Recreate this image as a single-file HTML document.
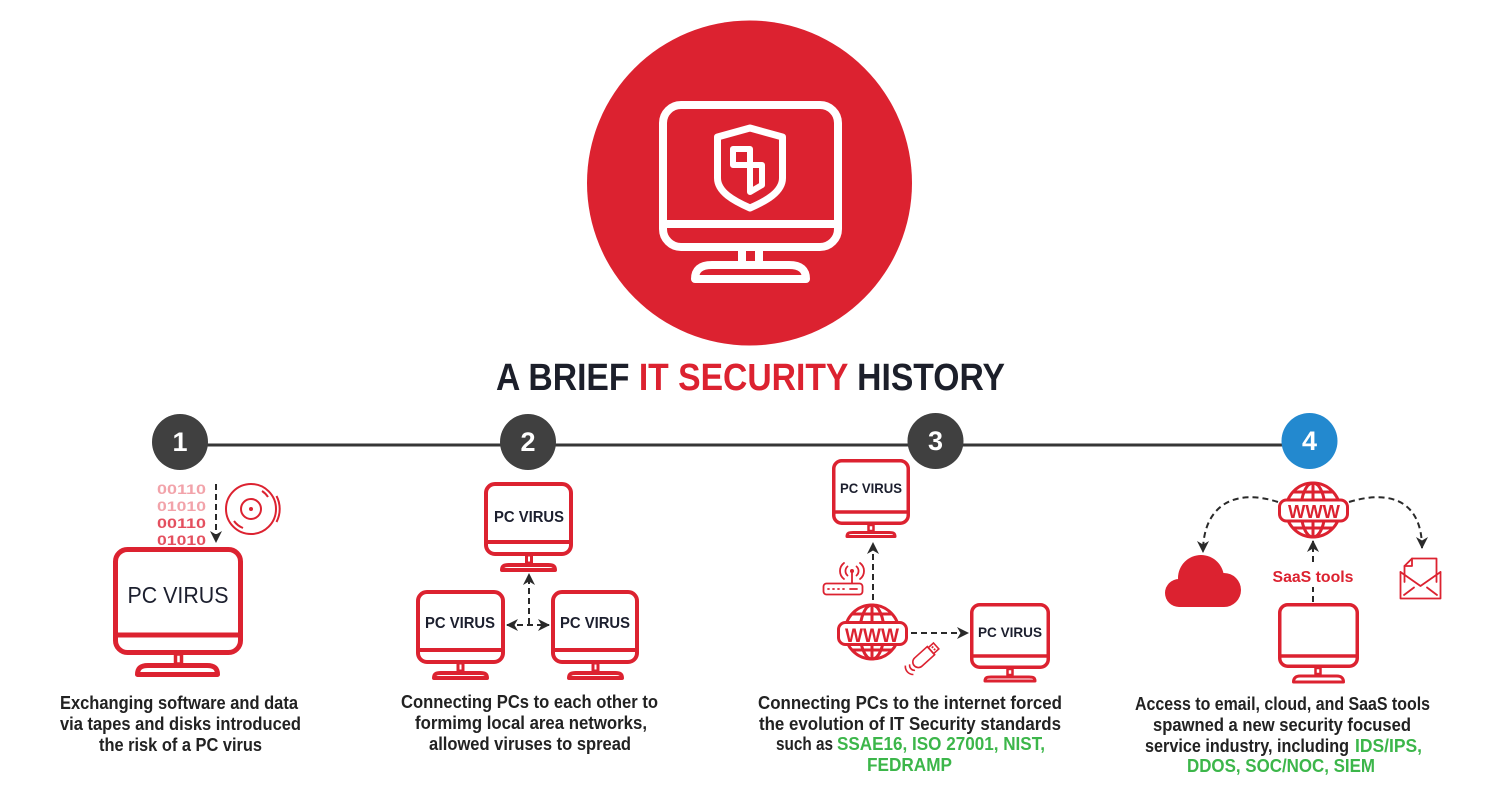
<!DOCTYPE html>
<html>
<head>
<meta charset="utf-8">
<style>
html,body{margin:0;padding:0;background:#fff;}
svg{display:block;}
text{font-family:"Liberation Sans",sans-serif;}
</style>
</head>
<body>
<svg width="1500" height="800" viewBox="0 0 1500 800" xmlns="http://www.w3.org/2000/svg">
<defs>
<marker id="ah" viewBox="0 0 12 12" refX="11" refY="6" markerWidth="12" markerHeight="12" markerUnits="userSpaceOnUse" orient="auto-start-reverse">
<path d="M0,0 L12,6 L0,12 L3.5,6 Z" fill="#2a2a2a"/>
</marker>
</defs>
<rect width="1500" height="800" fill="#fff"/>

<!-- Big circle -->
<circle cx="749.5" cy="183" r="162.5" fill="#dc2230"/>
<g fill="none" stroke="#fff" stroke-width="8" stroke-linejoin="round" stroke-linecap="round">
<rect x="663" y="105" width="175" height="142" rx="18"/>
<line x1="663" y1="224" x2="838" y2="224"/>
<line x1="742" y1="250" x2="742" y2="262" stroke-linecap="butt"/>
<line x1="759" y1="250" x2="759" y2="262" stroke-linecap="butt"/>
<path d="M695,279 C695,270 700,265 712,265 L789,265 C801,265 806,270 806,279 Z"/>
<path d="M750,128 L782.5,137 L782.5,178 C782.5,192 766,201 750,208 C734,201 717.5,192 717.5,178 L717.5,137 Z" stroke-width="7"/>
<path d="M733,149 H750 V192 L762,185 V165 H733 Z" stroke-width="6"/>
</g>

<!-- Title -->
<text x="496" y="390" font-size="38" font-weight="bold" textLength="509" lengthAdjust="spacingAndGlyphs" fill="#1c1f2a">A BRIEF <tspan fill="#dc2230">IT SECURITY</tspan> HISTORY</text>

<!-- Timeline -->
<line x1="180" y1="445" x2="1310" y2="445" stroke="#363636" stroke-width="3"/>
<circle cx="180" cy="442" r="28" fill="#404040"/>
<circle cx="528" cy="442" r="28" fill="#404040"/>
<circle cx="935.5" cy="441" r="28" fill="#404040"/>
<circle cx="1309.5" cy="441" r="28" fill="#2389cf"/>
<g font-size="27" font-weight="bold" fill="#fff" text-anchor="middle">
<text x="180" y="451">1</text>
<text x="528" y="451">2</text>
<text x="935.5" y="450">3</text>
<text x="1309.5" y="450">4</text>
</g>

<!-- Section 1 -->
<g font-weight="bold" font-size="14">
<text x="157" y="494" textLength="49" lengthAdjust="spacingAndGlyphs" fill="#f2a3aa">00110</text>
<text x="157" y="511" textLength="49" lengthAdjust="spacingAndGlyphs" fill="#f2a3aa">01010</text>
<text x="157" y="528" textLength="49" lengthAdjust="spacingAndGlyphs" fill="#e4505f">00110</text>
<text x="157" y="545" textLength="49" lengthAdjust="spacingAndGlyphs" fill="#e4505f">01010</text>
</g>
<line x1="216" y1="484" x2="216" y2="542" stroke="#2a2a2a" stroke-width="2" stroke-dasharray="6 4" marker-end="url(#ah)"/>
<g fill="none" stroke="#dc2230" stroke-width="2">
<circle cx="251" cy="509" r="25"/>
<circle cx="251" cy="509" r="10"/>
<path d="M276.5,496 A28,28 0 0 1 276.5,522"/>
<path d="M234,521 A20,20 0 0 0 243,528"/>
<path d="M268,497 A20,20 0 0 0 262,491"/>
</g>
<circle cx="251" cy="509" r="2" fill="#dc2230"/>
<g fill="none" stroke="#dc2230" stroke-linejoin="round">
<rect x="115.5" y="549.5" width="125" height="103" rx="12" stroke-width="5"/>
<line x1="115.5" y1="635" x2="240.5" y2="635" stroke-width="5"/>
<rect x="175.5" y="654" width="6" height="10" stroke-width="3.5"/>
<path d="M137.5,674.5 C137.5,668 141,665.5 148,665.5 L207,665.5 C214,665.5 217.5,668 217.5,674.5 Z" stroke-width="5"/>
</g>
<text x="178" y="603" font-size="23" text-anchor="middle" textLength="101" lengthAdjust="spacingAndGlyphs" fill="#1c1f2e">PC VIRUS</text>

<!-- Section 2 monitors -->
<g fill="none" stroke="#dc2230" stroke-width="4" stroke-linejoin="round">
<rect x="486" y="484" width="85" height="70" rx="9"/>
<line x1="486" y1="542" x2="571" y2="542"/>
<rect x="526.5" y="555" width="5" height="8" stroke-width="3"/>
<path d="M502,570 C502,566 504,565 509,565 L548,565 C553,565 555,566 555,570 Z"/>

<rect x="418" y="592" width="85" height="70" rx="9"/>
<line x1="418" y1="650" x2="503" y2="650"/>
<rect x="458" y="663" width="5" height="8" stroke-width="3"/>
<path d="M434,678 C434,674 436,673 441,673 L480,673 C485,673 487,674 487,678 Z"/>

<rect x="553" y="592" width="84" height="70" rx="9"/>
<line x1="553" y1="650" x2="637" y2="650"/>
<rect x="593" y="663" width="5" height="8" stroke-width="3"/>
<path d="M569,678 C569,674 571,673 576,673 L615,673 C620,673 622,674 622,678 Z"/>
</g>
<g font-size="16" font-weight="bold" fill="#1c1f2e" text-anchor="middle">
<text x="529" y="522" textLength="70" lengthAdjust="spacingAndGlyphs">PC VIRUS</text>
<text x="460" y="628" textLength="70" lengthAdjust="spacingAndGlyphs">PC VIRUS</text>
<text x="595" y="628" textLength="70" lengthAdjust="spacingAndGlyphs">PC VIRUS</text>
</g>
<line x1="529" y1="624" x2="529" y2="574" stroke="#2a2a2a" stroke-width="2" stroke-dasharray="6 4" marker-end="url(#ah)"/>
<line x1="507" y1="625" x2="549" y2="625" stroke="#2a2a2a" stroke-width="2" stroke-dasharray="6 4" marker-start="url(#ah)" marker-end="url(#ah)"/>

<!-- Section 3 -->
<g fill="none" stroke="#dc2230" stroke-width="3.5" stroke-linejoin="round">
<rect x="833.75" y="460.75" width="74.5" height="62.5" rx="8"/>
<line x1="833.75" y1="512" x2="908.25" y2="512"/>
<rect x="868.5" y="525" width="5" height="6" stroke-width="2.5"/>
<path d="M847,536.5 C847,533 849,532.5 853,532.5 L889,532.5 C893,532.5 895,533 895,536.5 Z" stroke-width="3"/>

<rect x="971.75" y="604.75" width="76.5" height="62.5" rx="8"/>
<line x1="971.75" y1="656" x2="1048.25" y2="656"/>
<rect x="1007.5" y="669" width="5" height="6" stroke-width="2.5"/>
<path d="M985,681 C985,677.5 987,677 991,677 L1029,677 C1033,677 1035,677.5 1035,681 Z" stroke-width="3"/>
</g>
<g font-size="14" font-weight="bold" fill="#1c1f2e" text-anchor="middle">
<text x="871" y="493" textLength="62" lengthAdjust="spacingAndGlyphs">PC VIRUS</text>
<text x="1010" y="637" textLength="64" lengthAdjust="spacingAndGlyphs">PC VIRUS</text>
</g>
<line x1="873" y1="600" x2="873" y2="543" stroke="#2a2a2a" stroke-width="2" stroke-dasharray="6 4" marker-end="url(#ah)"/>
<line x1="911" y1="633" x2="968" y2="633" stroke="#2a2a2a" stroke-width="2" stroke-dasharray="6 4" marker-end="url(#ah)"/>
<!-- router -->
<g fill="none" stroke="#dc2230" stroke-width="1.8" stroke-linecap="round">
<rect x="823.5" y="583.5" width="39" height="11" rx="3"/>
<line x1="828" y1="589" x2="829" y2="589"/>
<line x1="833" y1="589" x2="834" y2="589"/>
<line x1="838" y1="589" x2="839" y2="589"/>
<line x1="843" y1="589" x2="844" y2="589"/>
<line x1="850" y1="589" x2="857" y2="589"/>
<line x1="852" y1="583" x2="852" y2="573"/>
<path d="M847.5,566.5 A6,6 0 0 0 847.5,575.5"/>
<path d="M856.5,566.5 A6,6 0 0 1 856.5,575.5"/>
<path d="M844,563 A10,10 0 0 0 844,579"/>
<path d="M860,563 A10,10 0 0 1 860,579"/>
</g>
<circle cx="852" cy="571" r="2" fill="#dc2230"/>
<!-- globe 3 -->
<g fill="none" stroke="#dc2230" stroke-width="3">
<circle cx="872" cy="632" r="27"/>
<ellipse cx="872" cy="632" rx="12" ry="27"/>
<line x1="872" y1="605" x2="872" y2="659"/>
<line x1="852" y1="614" x2="892" y2="614"/>
<line x1="852" y1="650" x2="892" y2="650"/>
</g>
<rect x="838.5" y="622.5" width="68" height="22" rx="7" fill="#fff" stroke="#dc2230" stroke-width="3"/>
<text x="872" y="642" font-size="19" font-weight="bold" fill="#dc2230" text-anchor="middle" textLength="54" lengthAdjust="spacingAndGlyphs">WWW</text>
<!-- usb -->
<g transform="translate(925,656) rotate(-42)" fill="none" stroke="#dc2230" stroke-width="1.6">
<path d="M8,-5.5 H-9 A5.5,5.5 0 0 0 -9,5.5 H8 Z" fill="#fff"/>
<rect x="8" y="-4" width="7" height="8"/>
<line x1="10.5" y1="-1.5" x2="12.5" y2="-1.5"/>
<line x1="10.5" y1="1.5" x2="12.5" y2="1.5"/>
<path d="M-17,-4 A5,5 0 0 0 -17,4"/>
<path d="M-21,-6 A8,8 0 0 0 -21,6"/>
</g>

<!-- Section 4 -->
<path d="M1278,502 C1235,488 1203,505 1203,552" fill="none" stroke="#2a2a2a" stroke-width="2" stroke-dasharray="6 4" marker-end="url(#ah)"/>
<path d="M1349,502 C1395,488 1422,505 1422,548" fill="none" stroke="#2a2a2a" stroke-width="2" stroke-dasharray="6 4" marker-end="url(#ah)"/>
<line x1="1313" y1="602" x2="1313" y2="541" stroke="#2a2a2a" stroke-width="2" stroke-dasharray="6 4" marker-end="url(#ah)"/>
<rect x="1271" y="565" width="86" height="22" fill="#fff"/>
<text x="1313" y="582" font-size="16" font-weight="bold" fill="#dc2230" text-anchor="middle" textLength="81" lengthAdjust="spacingAndGlyphs">SaaS tools</text>
<!-- globe 4 -->
<g fill="none" stroke="#dc2230" stroke-width="3">
<circle cx="1313" cy="510" r="27"/>
<ellipse cx="1313" cy="510" rx="12" ry="27"/>
<line x1="1313" y1="483" x2="1313" y2="537"/>
<line x1="1293" y1="492" x2="1333" y2="492"/>
<line x1="1293" y1="528" x2="1333" y2="528"/>
</g>
<rect x="1279.5" y="500" width="68" height="21" rx="7" fill="#fff" stroke="#dc2230" stroke-width="3"/>
<text x="1314" y="518" font-size="18" font-weight="bold" fill="#dc2230" text-anchor="middle" textLength="52" lengthAdjust="spacingAndGlyphs">WWW</text>
<!-- cloud -->
<g fill="#dc2230">
<circle cx="1201" cy="578" r="23"/>
<circle cx="1179" cy="593" r="14"/>
<circle cx="1224" cy="590" r="17"/>
<rect x="1179" y="585" width="45" height="22"/>
</g>
<!-- envelope -->
<g fill="none" stroke="#dc2230" stroke-width="1.8" stroke-linejoin="round" stroke-linecap="round">
<path d="M1404.5,582 V566 L1412,558.5 H1436.5 V582"/>
<path d="M1404.5,566 H1412 V558.5"/>
<path d="M1400.5,572 V598.5 H1440.5 V572"/>
<path d="M1400.5,572 L1420.5,586 L1440.5,572"/>
<path d="M1404,595 L1414,587.5"/>
<path d="M1437,595 L1427,587.5"/>
</g>
<!-- monitor 4 -->
<g fill="none" stroke="#dc2230" stroke-width="3.5" stroke-linejoin="round">
<rect x="1279.75" y="604.75" width="77.5" height="61.5" rx="8"/>
<line x1="1279.75" y1="656" x2="1357.25" y2="656"/>
<rect x="1315.5" y="668" width="5" height="6" stroke-width="2.5"/>
<path d="M1293.5,682 C1293.5,678 1296,676 1300,676 L1337,676 C1341,676 1343.5,678 1343.5,682 Z" stroke-width="3"/>
</g>

<!-- Captions -->
<g font-size="18.5" font-weight="bold" fill="#222">
<text x="60" y="709" textLength="238" lengthAdjust="spacingAndGlyphs">Exchanging software and data</text>
<text x="60" y="730" textLength="241" lengthAdjust="spacingAndGlyphs">via tapes and disks introduced</text>
<text x="99" y="751" textLength="163" lengthAdjust="spacingAndGlyphs">the risk of a PC virus</text>

<text x="401" y="708" textLength="257" lengthAdjust="spacingAndGlyphs">Connecting PCs to each other to</text>
<text x="415" y="729" textLength="232" lengthAdjust="spacingAndGlyphs">formimg local area networks,</text>
<text x="429" y="750" textLength="202" lengthAdjust="spacingAndGlyphs">allowed viruses to spread</text>

<text x="758" y="709" textLength="304" lengthAdjust="spacingAndGlyphs">Connecting PCs to the internet forced</text>
<text x="759" y="730" textLength="302" lengthAdjust="spacingAndGlyphs">the evolution of IT Security standards</text>
<text x="776" y="750" textLength="57" lengthAdjust="spacingAndGlyphs">such as</text>
<text x="837" y="750" textLength="208" lengthAdjust="spacingAndGlyphs" fill="#3cb64a">SSAE16, ISO 27001, NIST,</text>
<text x="867" y="771" textLength="85" lengthAdjust="spacingAndGlyphs" fill="#3cb64a">FEDRAMP</text>

<text x="1135" y="710" textLength="295" lengthAdjust="spacingAndGlyphs">Access to email, cloud, and SaaS tools</text>
<text x="1153" y="731" textLength="258" lengthAdjust="spacingAndGlyphs">spawned a new security focused</text>
<text x="1145" y="752" textLength="204" lengthAdjust="spacingAndGlyphs">service industry, including</text>
<text x="1355" y="752" textLength="67" lengthAdjust="spacingAndGlyphs" fill="#3cb64a">IDS/IPS,</text>
<text x="1187" y="772" textLength="188" lengthAdjust="spacingAndGlyphs" fill="#3cb64a">DDOS, SOC/NOC, SIEM</text>
</g>
</svg>
</body>
</html>
